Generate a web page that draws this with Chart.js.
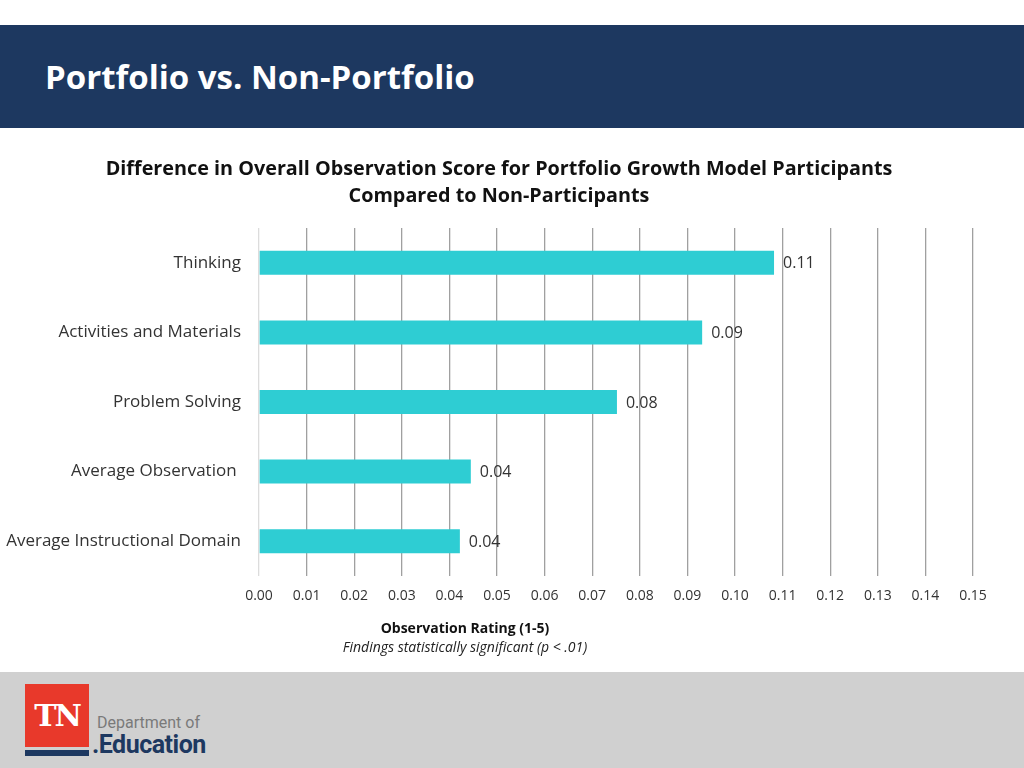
<!DOCTYPE html>
<html>
<head>
<meta charset="utf-8">
<script src="https://cdn.jsdelivr.net/npm/chart.js@4"></script>
<style>
  body { margin: 0; width: 1024px; height: 768px; position: relative; background: #fff; font-family: "Open Sans", sans-serif; overflow: hidden; }
  #header { position: absolute; left: 0; top: 25px; width: 1024px; height: 103px; background: #1d3860; }
  #header h1 { position: absolute; left: 45px; top: 29px; margin: 0; color: #fff; font-size: 33px; font-weight: 700; line-height: 46px; }
  #footer { position: absolute; left: 0; top: 672px; width: 1024px; height: 96px; background: #d0d0d0; }
  #tn { position: absolute; left: 25px; top: 12px; width: 64px; height: 63px; background: #e8392b; color: #fff; font-family: "DejaVu Serif", serif; font-size: 30px; font-weight: 700; text-align: center; line-height: 63px; letter-spacing: -2px; }
  #tnbar { position: absolute; left: 25px; top: 78px; width: 64px; height: 6px; background: #1d3860; }
  #dept { position: absolute; left: 97px; top: 41px; font-family: Roboto, sans-serif; font-size: 16px; color: #7a7a7a; line-height: 20px; }
  #edu { position: absolute; left: 92px; top: 58px; font-family: Roboto, sans-serif; font-size: 25px; font-weight: 700; color: #1d3860; line-height: 30px; letter-spacing: -0.5px; }
  #wrap { position: absolute; left: 0; top: 128px; width: 1024px; height: 544px; }
  .axisnote { position: absolute; left: 265px; width: 400px; text-align: center; color: #111; }
  #xtitle { top: 617px; font-size: 14px; font-weight: 700; line-height: 22px; }
  #note { top: 636px; font-size: 14px; font-style: italic; line-height: 22px; color: #222; }
</style>
</head>
<body>
<div id="header"><h1>Portfolio vs. Non-Portfolio</h1></div>
<div id="wrap"><canvas id="myChart"></canvas></div>
<div id="xtitle" class="axisnote">Observation Rating (1-5)</div>
<div id="note" class="axisnote">Findings statistically significant (p &lt; .01)</div>
<div id="footer">
  <div id="tn">TN</div>
  <div id="tnbar"></div>
  <div id="dept">Department of</div>
  <div id="edu">.Education</div>
</div>
<script>
const categories = ['Thinking', 'Activities and Materials', 'Problem Solving', 'Average Observation ', 'Average Instructional Domain'];
const differences = [0.1082, 0.0931, 0.0752, 0.0445, 0.0422];
const tickValues = [0, 0.01, 0.02, 0.03, 0.04, 0.05, 0.06, 0.07, 0.08, 0.09, 0.10, 0.11, 0.12, 0.13, 0.14, 0.15];

// draws the rounded value at the end of each bar
const valueLabels = {
  id: 'valueLabels',
  afterDatasetsDraw(chart) {
    const ctx = chart.ctx;
    const meta = chart.getDatasetMeta(0);
    ctx.save();
    ctx.font = '16px "Open Sans"';
    ctx.fillStyle = '#333';
    ctx.textAlign = 'left';
    ctx.textBaseline = 'middle';
    meta.data.forEach((bar, i) => {
      ctx.fillText(differences[i].toFixed(2), bar.x + 9, bar.y + 1);
    });
    ctx.restore();
  }
};

const ctx = document.getElementById('myChart').getContext('2d');

new Chart(ctx, {
  type: 'bar',
  data: {
    labels: categories,
    datasets: [{
      data: differences,
      backgroundColor: '#2ecdd3',
      borderWidth: 0,
      barPercentage: 0.345,
      categoryPercentage: 1
    }]
  },
  options: {
    indexAxis: 'y',
    responsive: true,
    maintainAspectRatio: false,
    animation: false,
    layout: { padding: { left: 0, right: 26, top: 0, bottom: 67.6 } },
    plugins: {
      legend: { display: false },
      tooltip: { enabled: false },
      title: {
        display: true,
        text: ['Difference in Overall Observation Score for Portfolio Growth Model Participants', 'Compared to Non-Participants'],
        color: '#111',
        font: { family: 'Open Sans', size: 19.8, weight: 'bold', lineHeight: 1.364 },
        padding: { top: 27.5, bottom: 18.5 }
      }
    },
    scales: {
      x: {
        min: 0,
        max: 0.15,
        afterBuildTicks: scale => {
          scale.ticks = tickValues.map(v => ({ value: v }));
        },
        afterFit: scale => {
          scale.height = 28.4;
          scale.paddingRight = 51;
        },
        ticks: {
          color: '#333',
          padding: 11.6,
          font: { family: 'Open Sans', size: 14 },
          callback: value => Number(value).toFixed(2)
        },
        grid: {
          drawTicks: false,
          color: c => (c.tick && c.tick.value === 0 ? '#dcdcdc' : '#a0a0a0'),
          lineWidth: 1.3
        },
        border: { display: false }
      },
      y: {
        afterFit: scale => { scale.width = 259; },
        ticks: {
          color: '#333',
          padding: 18,
          font: { family: 'Open Sans', size: 17 }
        },
        grid: { display: false, drawTicks: false },
        border: { display: false }
      }
    }
  },
  plugins: [valueLabels]
});
</script>
</body>
</html>
